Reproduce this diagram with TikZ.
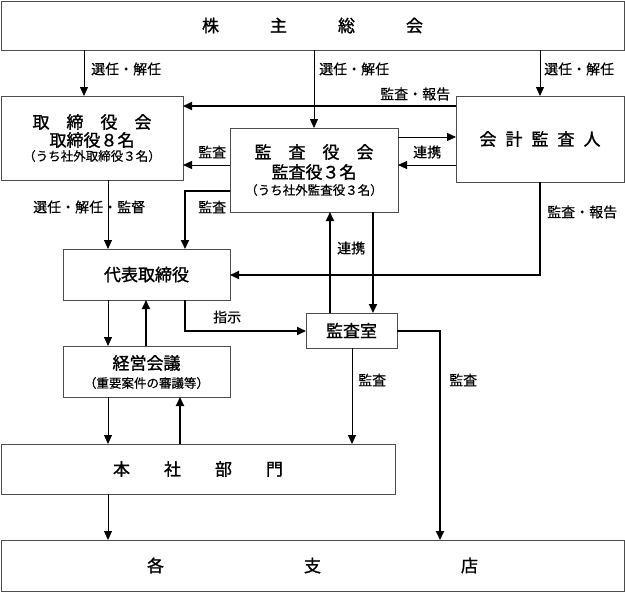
\documentclass[tikz,border=0pt]{standalone}
\usepackage{fontspec}
\setmainfont{Noto Sans CJK JP}
\newfontfamily\ttlfont{Noto Sans CJK JP}[FakeBold=1.2]
\newfontfamily\lblfont{Noto Sans CJK JP}[FakeBold=0.4]
\usetikzlibrary{arrows.meta}
\begin{document}
\begin{tikzpicture}[x=1pt,y=-1pt,
  box/.style={draw=black!70, line width=0.9pt, rectangle, inner sep=0pt, outer sep=0pt, fill=white},
  ttl/.style={font=\ttlfont\fontsize{17}{18}\selectfont, inner sep=0pt},
  sub/.style={font=\lblfont\fontsize{12.5}{14}\selectfont, inner sep=0pt},
  lbl/.style={font=\lblfont\fontsize{14}{15}\selectfont, inner sep=0pt, anchor=west},
  arr/.style={draw=black, line width=0.8pt, -{Triangle[length=9pt,width=8pt]}},
  tarr/.style={draw=black, line width=2pt, -{Triangle[length=9pt,width=8pt]}}
]
\useasboundingbox (0,0) rectangle (625,592);

% boxes
\node[box, ttl, minimum width=623pt, minimum height=49pt] (soukai) at (312.5,25.5) {株　　　主　　　総　　　会};
\node[box, minimum width=182pt, minimum height=84pt] (torishimari) at (92,138) {};
\node[box, minimum width=168pt, minimum height=84pt] (kansayaku) at (314,170) {};
\node[box, ttl, minimum width=168pt, minimum height=86pt] (kaikei) at (540,139) {会\hspace{9pt}計\hspace{9pt}監\hspace{9pt}査\hspace{9pt}人};
\node[box, ttl, minimum width=167pt, minimum height=51pt] (daihyo) at (146.5,274.5) {代表取締役};
\node[box, minimum width=167pt, minimum height=51pt] (keiei) at (146.5,371.5) {};
\node[box, ttl, minimum width=91pt, minimum height=35pt] (kansashitsu) at (351.5,330.5) {監査室};
\node[box, ttl, minimum width=394pt, minimum height=50pt] (honsha) at (198,469) {本　　社　　部　　門};
\node[box, ttl, minimum width=623pt, minimum height=51pt] (shiten) at (312.5,565.5) {各\hspace{140pt}支\hspace{140pt}店};

% multi-line box texts
\node[ttl] (t1a) at (92,122) {取　締　役　会};
\node[ttl] (t1b) at (92,140) {取締役８名};
\node[sub] (t1c) at (92,156) {（うち社外取締役３名）};
\node[ttl] (t2a) at (314,152) {監　査　役　会};
\node[ttl] (t2b) at (314,172) {監査役３名};
\node[sub] (t2c) at (314,190) {（うち社外監査役３名）};
\node[ttl] (t3a) at (146.5,363) {経営会議};
\node[sub] (t3b) at (146.5,383) {（重要案件の審議等）};

% reference lines
\coordinate (xA) at (84,0);
\coordinate (xB) at (314,0);
\coordinate (xC) at (540,0);
\coordinate (xD) at (108,0);
\coordinate (xE) at (185,0);
\coordinate (xF) at (330,0);
\coordinate (xG) at (373,0);
\coordinate (xH) at (146,0);
\coordinate (xI) at (180,0);
\coordinate (xJ) at (352,0);
\coordinate (xK) at (440,0);
\coordinate (yA) at (0,106);
\coordinate (yB) at (0,137);
\coordinate (yC) at (0,165);
\coordinate (yD) at (0,191);
\coordinate (yE) at (0,275);
\coordinate (yF) at (0,331);

% connectors
\draw[arr] (soukai.south -| xA) -- (torishimari.north -| xA);
\draw[arr] (soukai.south -| xB) -- (kansayaku.north -| xB);
\draw[arr] (soukai.south -| xC) -- (kaikei.north -| xC);
\draw[tarr] (kaikei.west |- yA) -- (torishimari.east |- yA);
\draw[arr] (kansayaku.east |- yB) -- (kaikei.west |- yB);
\draw[arr] (kaikei.west |- yC) -- (kansayaku.east |- yC);
\draw[arr] (kansayaku.west |- yC) -- (torishimari.east |- yC);
\draw[tarr] (kansayaku.west |- yD) -| (daihyo.north -| xE);
\draw[arr] (torishimari.south -| xD) -- (daihyo.north -| xD);
\draw[tarr] (kaikei.south -| xC) |- (daihyo.east |- yE);
\draw[tarr] (kansashitsu.north -| xF) -- (kansayaku.south -| xF);
\draw[tarr] (kansayaku.south -| xG) -- (kansashitsu.north -| xG);
\draw[tarr] (daihyo.south -| xE) |- (kansashitsu.west |- yF);
\draw[arr] (daihyo.south -| xD) -- (keiei.north -| xD);
\draw[tarr] (keiei.north -| xH) -- (daihyo.south -| xH);
\draw[arr] (keiei.south -| xD) -- (honsha.north -| xD);
\draw[tarr] (honsha.north -| xI) -- (keiei.south -| xI);
\draw[arr] (kansashitsu.south -| xJ) -- (honsha.north -| xJ);
\draw[tarr] (kansashitsu.east |- yF) -| (shiten.north -| xK);
\draw[arr] (honsha.south -| xD) -- (shiten.north -| xD);

% labels
\node[lbl] (l1) at (91,69) {選任・解任};
\node[lbl] (l2) at (319,69) {選任・解任};
\node[lbl] (l3) at (544,69) {選任・解任};
\node[lbl] (l4) at (380,94) {監査・報告};
\node[lbl] (l5) at (198,152) {監査};
\node[lbl] (l6) at (198,207) {監査};
\node[lbl] (l7) at (413,152) {連携};
\node[lbl] (l8) at (33,207) {選任・解任・監督};
\node[lbl] (l9) at (547,212) {監査・報告};
\node[lbl] (l10) at (337,248) {連携};
\node[lbl] (l11) at (213,317) {指示};
\node[lbl] (l12) at (358,380) {監査};
\node[lbl] (l13) at (449,380) {監査};
\end{tikzpicture}
\end{document}
